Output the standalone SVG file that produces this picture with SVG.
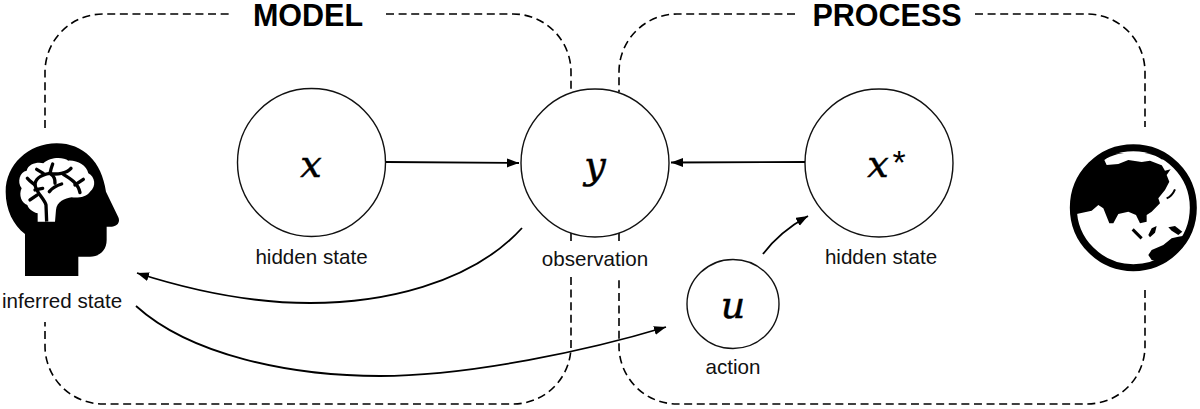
<svg xmlns="http://www.w3.org/2000/svg" width="1200" height="409" viewBox="0 0 1200 409">
<defs>
<marker id="arrow" markerUnits="userSpaceOnUse" markerWidth="13" markerHeight="10" refX="12" refY="4.5" orient="auto"><path d="M0,0 L12,4.5 L0,9 Z" fill="#000"/></marker>
</defs>
<style>
text{font-family:"Liberation Sans",Arial,sans-serif;fill:#111;text-anchor:middle}
.lbl{font-size:20.6px}
.title{font-size:30.5px;font-weight:bold;fill:#000}
.math{font-family:"DejaVu Serif",serif;font-style:italic;font-size:38px;fill:#000;stroke:#000;stroke-width:0.5}
.star{font-size:34px;fill:#000}
.box{fill:none;stroke:#000;stroke-width:1.6;stroke-dasharray:8 4.6}
.node{fill:#fff;stroke:#111;stroke-width:1.4}
.conn{fill:none;stroke:#000;stroke-width:1.8;marker-end:url(#arrow)}
</style>
<rect width="1200" height="409" fill="#fff"/>
<g id="model-boundary">
<path class="box" d="M45,128 V72 A58,58 0 0 1 103,14 H232"/>
<path class="box" d="M386,14 H513 A58,58 0 0 1 571,72 V92"/>
<path class="box" d="M571,233 V243"/>
<path class="box" d="M571,277 V346 A58,58 0 0 1 513,404 H103 A58,58 0 0 1 45,346 V322"/>
<text class="title" x="308" y="26">MODEL</text>
</g>
<g id="process-boundary">
<path class="box" d="M795,14 H677 A58,58 0 0 0 619,72 V92"/>
<path class="box" d="M975,14 H1087 A58,58 0 0 1 1145,72 V127"/>
<path class="box" d="M619,233 V243"/>
<path class="box" d="M1145,290 V346 A58,58 0 0 1 1087,404 H677 A58,58 0 0 1 619,346 V277"/>
<text class="title" x="887" y="26">PROCESS</text>
</g>
<g id="node-x">
<circle class="node" cx="311.5" cy="162.5" r="74"/>
<text class="math" x="311" y="177">x</text>
<text class="lbl" x="311.5" y="264">hidden state</text>
</g>
<g id="node-y">
<circle class="node" cx="595" cy="163" r="74"/>
<text class="math" x="595" y="178">y</text>
<text class="lbl" x="595" y="266">observation</text>
</g>
<g id="node-xstar">
<circle class="node" cx="879" cy="163" r="74"/>
<text class="math" x="878" y="177">x</text>
<text class="star" x="899" y="174">*</text>
<text class="lbl" x="881" y="264">hidden state</text>
</g>
<g id="node-u">
<ellipse class="node" cx="733" cy="304" rx="46" ry="44.5"/>
<text class="math" x="733" y="318">u</text>
<text class="lbl" x="733" y="374">action</text>
</g>
<g id="node-head">
<g transform="translate(0,130) scale(0.3333)">
<path fill="#000" d="M75,438 L75,312 C40,285 17,240 17,185 C17,105 85,40 170,40 C250,40 305,95 318,185 L355,262 C362,278 350,290 335,290 L320,290 L320,330 C320,360 300,380 270,380 L235,380 L235,438 Z"/>
<path fill="#fff" d="M113,275 L113,250 C95,245 85,235 82,225 C65,220 55,195 65,175 C50,155 60,125 80,122 C85,100 115,95 130,100 C150,80 190,80 205,92 C230,90 260,105 265,130 C285,140 290,170 270,185 C260,200 235,205 215,202 C195,205 170,215 168,240 L165,275 Z"/>
<g fill="none" stroke="#000" stroke-width="10" stroke-linecap="round">
<path d="M140,275 L138,225 C132,205 110,190 105,165 C105,150 118,135 150,130" stroke-linecap="butt"/>
<path d="M150,130 C152,120 155,110 158,102"/>
<path d="M110,118 L130,130"/>
<path d="M82,145 C90,155 100,160 105,165"/>
<path d="M105,180 L128,175"/>
<path d="M90,210 L112,195"/>
<path d="M150,130 C170,135 200,130 213,115"/>
<path d="M190,133 C210,145 235,160 240,188"/>
<path d="M225,165 L250,148"/>
<path d="M150,130 C165,140 165,150 165,160"/>
<path d="M148,185 C160,170 175,165 185,162"/>
</g>
</g>
<text class="lbl" x="62" y="308">inferred state</text>
</g>
<g id="node-globe">
<g transform="translate(1050,140) scale(0.3333)">
<circle cx="250" cy="203" r="180" fill="#fff" stroke="#000" stroke-width="21"/>
<path fill="#000" d="M72,225 L80,222 L125,212 L145,195 L160,205 L178,250 L190,250 L205,222 L235,215 L258,225 L270,250 L290,245 L290,225 L305,215 L330,190 L325,175 L345,150 L358,125 L350,105 L362,88 L345,92 L335,75 L340,40 L160,40 L70,150 Z"/>
<path fill="#fff" d="M163,60 C200,32 300,24 345,65 L335,76 L300,62 L275,66 L235,60 L205,72 L170,75 Z"/>
<path fill="none" stroke="#000" stroke-width="6" d="M350,175 C362,170 370,160 375,148"/>
<path fill="none" stroke="#000" stroke-width="9" d="M248,268 L275,295"/>
<path fill="#000" d="M295,285 L305,265 L320,258 L315,278 L300,292 Z"/>
<path fill="#000" d="M355,262 L375,258 L397,275 L385,285 L365,272 Z"/>
<path fill="#000" d="M295,345 L305,330 L340,315 L365,295 L385,290 L415,285 L390,330 L340,365 L305,360 Z"/>
</g>
</g>
<g id="connectors">
<path class="conn" d="M386,162 L519,163"/>
<path class="conn" d="M805,162 L671,162.5"/>
<path class="conn" d="M522,228 C470,285 380,303 310,303 C250,303 190,290 137,273"/>
<path class="conn" d="M136,306 C190,355 290,376 380,376 C470,376 590,350 666,327"/>
<path class="conn" d="M763,254 C775,238 790,226 808,216"/>
</g>
</svg>
